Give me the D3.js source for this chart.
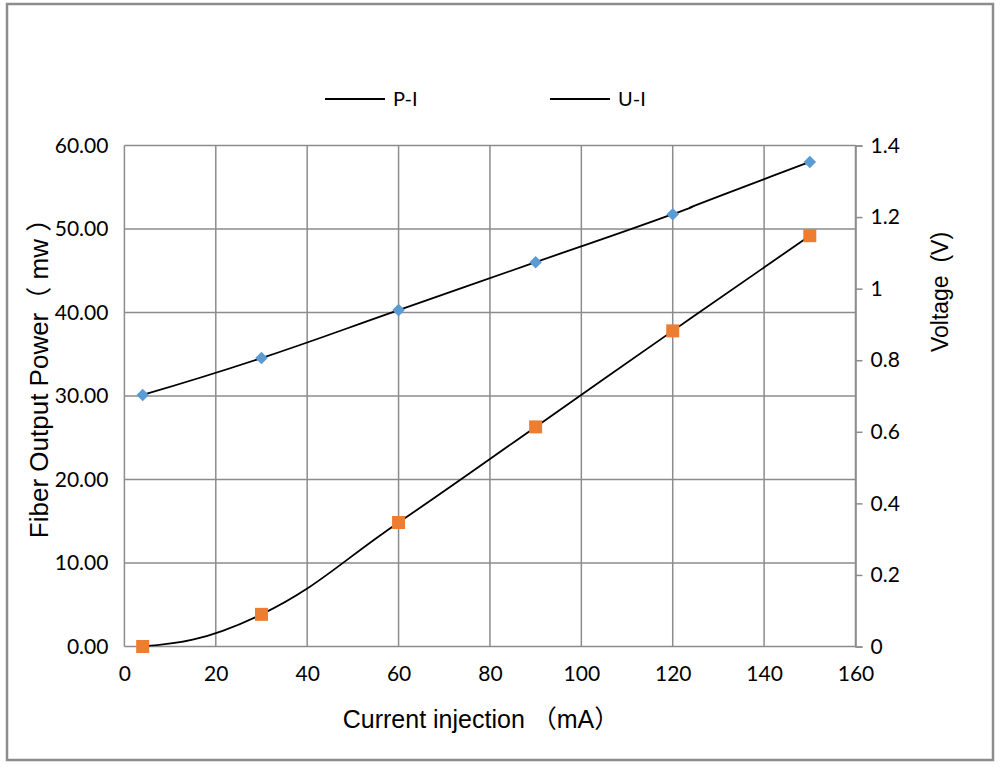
<!DOCTYPE html>
<html>
<head>
<meta charset="utf-8">
<script src="https://cdn.jsdelivr.net/npm/d3@7"></script>
<style>
  body { margin: 0; background: #fff; }
  .tick text { font-family: Lato, "Open Sans", sans-serif; font-size: 21px; fill: #000; }
  .title { font-family: "Liberation Sans", Arial, "Noto Sans CJK SC", sans-serif; fill: #000; }
  .legend text { font-family: Lato, "Open Sans", sans-serif; font-size: 20px; fill: #000; }
</style>
</head>
<body>
<svg id="chart" width="1000" height="768"></svg>
<script>
// current injection (mA)
var currents = [4, 30, 60, 90, 120, 150];
// P-I : fiber output power (mw), left axis
var powerValues = [0, 3.85, 14.85, 26.3, 37.8, 49.2];
// U-I : voltage (V), right axis
var voltageValues = [0.703, 0.806, 0.94, 1.074, 1.208, 1.354];

var xTicks = [0, 20, 40, 60, 80, 100, 120, 140, 160];
var leftTicks = [0, 10, 20, 30, 40, 50, 60];
var rightTicks = [0, 0.2, 0.4, 0.6, 0.8, 1, 1.2, 1.4];
var seriesNames = ["P-I", "U-I"];

var svg = d3.select("#chart");

// smoothed line like the spreadsheet one: bezier segments, natural ends
function SmoothCurve(context) {
    this._context = context;
}
SmoothCurve.prototype = {
    areaStart: function() {},
    areaEnd: function() {},
    lineStart: function() { this._pts = []; },
    point: function(x, y) { this._pts.push([+x, +y]); },
    lineEnd: function() {
        var p = this._pts, n = p.length, k = 0.22, ctx = this._context;
        if (!n) return;
        ctx.moveTo(p[0][0], p[0][1]);
        if (n < 3) {
            for (var j = 1; j < n; j++) ctx.lineTo(p[j][0], p[j][1]);
            return;
        }
        for (var i = 0; i < n - 1; i++) {
            var a = p[i], b = p[i + 1], c1, c2;
            if (i > 0) c1 = [a[0] + k * (b[0] - p[i - 1][0]), a[1] + k * (b[1] - p[i - 1][1])];
            if (i + 2 < n) c2 = [b[0] - k * (p[i + 2][0] - a[0]), b[1] - k * (p[i + 2][1] - a[1])];
            if (!c1) c1 = [(a[0] + c2[0]) / 2, (a[1] + c2[1]) / 2];
            if (!c2) c2 = [(b[0] + c1[0]) / 2, (b[1] + c1[1]) / 2];
            ctx.bezierCurveTo(c1[0], c1[1], c2[0], c2[1], b[0], b[1]);
        }
    }
};
function curveSmooth(context) { return new SmoothCurve(context); }

// outer frame
svg.append("rect")
    .attr("x", 7).attr("y", 4)
    .attr("width", 986).attr("height", 756)
    .attr("fill", "none")
    .attr("stroke", "#8c8c8c")
    .attr("stroke-width", 2.5);

var plotLeft = 124.4, plotRight = 855.5, plotTop = 145.5, plotBottom = 646.5;

var x = d3.scaleLinear().domain([0, 160]).range([plotLeft, plotRight]);
var yLeft = d3.scaleLinear().domain([0, 60]).range([plotBottom, plotTop]);
var yRight = d3.scaleLinear().domain([0, 1.4]).range([plotBottom, plotTop]);

// grid
var grid = svg.append("g").attr("class", "grid");
grid.selectAll("line.v").data(xTicks).enter().append("line")
    .attr("class", "v")
    .attr("x1", function(d) { return x(d); })
    .attr("x2", function(d) { return x(d); })
    .attr("y1", plotTop).attr("y2", plotBottom)
    .attr("stroke", "#8c8c8c").attr("stroke-width", 1.5);
grid.selectAll("line.h").data(leftTicks).enter().append("line")
    .attr("class", "h")
    .attr("x1", plotLeft).attr("x2", plotRight)
    .attr("y1", function(d) { return yLeft(d); })
    .attr("y2", function(d) { return yLeft(d); })
    .attr("stroke", "#8c8c8c").attr("stroke-width", 1.5);

// axes
var xAxis = svg.append("g")
    .attr("transform", "translate(0," + plotBottom + ")")
    .call(d3.axisBottom(x).tickValues(xTicks).tickSize(0).tickPadding(22).tickFormat(d3.format("d")));
xAxis.select(".domain").remove();
xAxis.selectAll(".tick text").attr("dy", "0.6em");

var leftAxis = svg.append("g")
    .attr("transform", "translate(" + plotLeft + ",0)")
    .call(d3.axisLeft(yLeft).tickValues(leftTicks).tickSize(0).tickPadding(16).tickFormat(d3.format(".2f")));
leftAxis.select(".domain").remove();

var rightAxis = svg.append("g")
    .attr("transform", "translate(" + plotRight + ",0)")
    .call(d3.axisRight(yRight).tickValues(rightTicks).tickSize(7).tickPadding(8).tickFormat(function(d) { return d3.format("~g")(d); }));
rightAxis.select(".domain").attr("stroke", "#8c8c8c").attr("stroke-width", 1.5);
rightAxis.selectAll(".tick line").attr("stroke", "#8c8c8c").attr("stroke-width", 1.5);

// clip for smoothed lines
svg.append("clipPath").attr("id", "plotClip")
    .append("rect")
    .attr("x", plotLeft).attr("y", plotTop - 20)
    .attr("width", plotRight - plotLeft).attr("height", plotBottom - plotTop + 20);

var powerData = currents.map(function(c, i) { return { x: c, y: powerValues[i] }; });
var voltageData = currents.map(function(c, i) { return { x: c, y: voltageValues[i] }; });

var powerLine = d3.line()
    .x(function(d) { return x(d.x); })
    .y(function(d) { return yLeft(d.y); })
    .curve(curveSmooth);
var voltageLine = d3.line()
    .x(function(d) { return x(d.x); })
    .y(function(d) { return yRight(d.y); })
    .curve(curveSmooth);

var lines = svg.append("g").attr("clip-path", "url(#plotClip)");
lines.append("path").datum(powerData)
    .attr("d", powerLine)
    .attr("fill", "none").attr("stroke", "#000").attr("stroke-width", 1.8);
lines.append("path").datum(voltageData)
    .attr("d", voltageLine)
    .attr("fill", "none").attr("stroke", "#000").attr("stroke-width", 1.8);

// markers
svg.append("g").selectAll("rect").data(powerData).enter().append("rect")
    .attr("x", function(d) { return x(d.x) - 6.5; })
    .attr("y", function(d) { return yLeft(d.y) - 6.5; })
    .attr("width", 13).attr("height", 13)
    .attr("fill", "#ED7D31");

svg.append("g").selectAll("path").data(voltageData).enter().append("path")
    .attr("d", d3.symbol().type(d3.symbolDiamond2).size(100))
    .attr("transform", function(d) { return "translate(" + x(d.x) + "," + yRight(d.y) + ")"; })
    .attr("fill", "#5B9BD5");

// legend
var legend = svg.append("g").attr("class", "legend");
var legendX = [325, 550];
seriesNames.forEach(function(name, i) {
    legend.append("line")
        .attr("x1", legendX[i]).attr("x2", legendX[i] + 60)
        .attr("y1", 99).attr("y2", 99)
        .attr("stroke", "#000").attr("stroke-width", 1.8);
    legend.append("text")
        .attr("x", legendX[i] + 68).attr("y", 99)
        .attr("dy", "0.35em")
        .text(name);
});

// axis titles
svg.append("text").attr("class", "title")
    .attr("x", 481).attr("y", 728)
    .attr("text-anchor", "middle")
    .style("font-size", "25px")
    .text("Current injection （mA）");

svg.append("text").attr("class", "title")
    .attr("transform", "translate(48,372) rotate(-90)")
    .attr("text-anchor", "middle")
    .style("font-size", "26px")
    .text("Fiber Output Power（ mw ）");

svg.append("text").attr("class", "title")
    .attr("transform", "translate(948,292) rotate(-90)")
    .attr("text-anchor", "middle")
    .style("font-size", "23px")
    .text("Voltage\u00a0\u00a0(V)");
</script>
</body>
</html>
